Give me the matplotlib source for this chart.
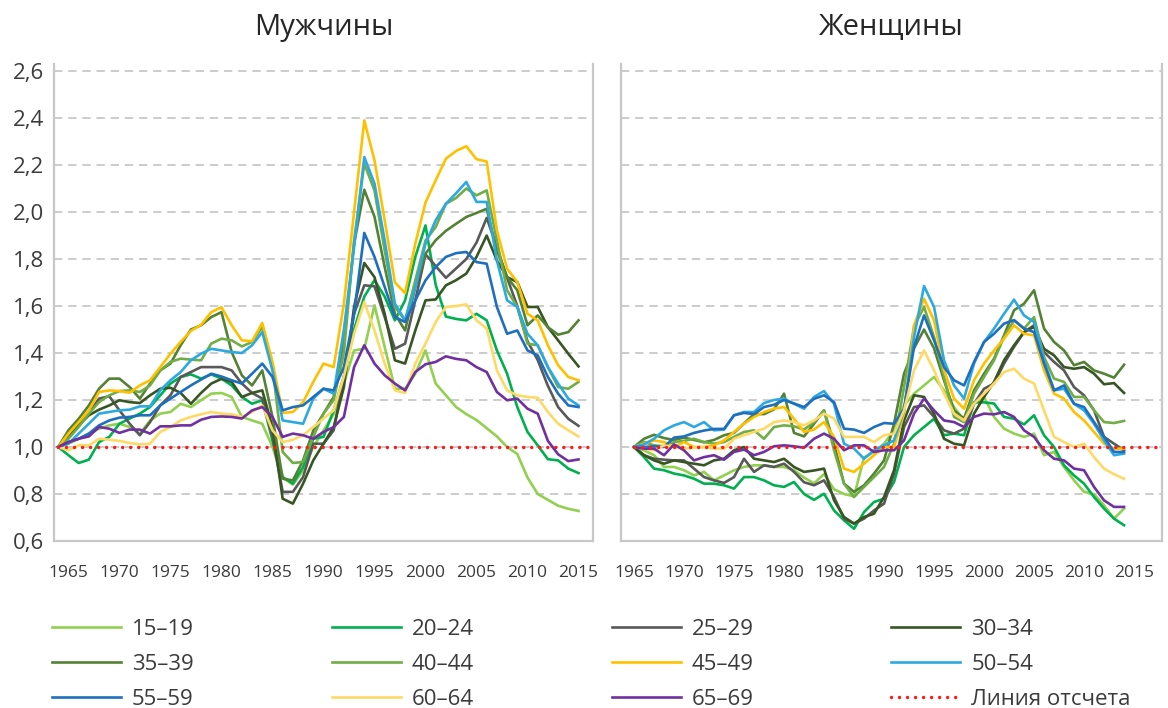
import numpy as np
import matplotlib
matplotlib.use('Agg')
import matplotlib.pyplot as plt

plt.rcParams['font.family'] = ['Open Sans', 'DejaVu Sans']

# years on each panel (men 1964-2015, women 1965-2014)
years_m = list(range(1964, 2016))
years_w = list(range(1965, 2015))
base_line = 1.0

groups = ['15–19', '20–24', '25–29', '30–34', '35–39', '40–44',
          '45–49', '50–54', '55–59', '60–64', '65–69']
colors = ['#92D050', '#00B050', '#595959', '#375623', '#548235', '#70AD47',
          '#FFC000', '#2DA9E1', '#1F6FBF', '#FFD966', '#7030A0']
ref_label = 'Линия отсчета'

# ---- men, relative to the first year ----
m_15_19 = [1.0, 1.014, 1.035, 1.057, 1.078, 1.092, 1.099, 1.085, 1.057, 1.113,
           1.142, 1.149, 1.184, 1.17, 1.199, 1.227, 1.23, 1.213, 1.128, 1.113,
           1.099, 1.0, 0.87, 0.84, 0.9, 1.0, 1.07, 1.14, 1.27, 1.411,
           1.418, 1.603, 1.426, 1.248, 1.248, 1.312, 1.411, 1.27, 1.22, 1.17,
           1.14, 1.115, 1.08, 1.045, 1.0, 0.97, 0.87, 0.8, 0.775, 0.75,
           0.737, 0.728]
m_20_24 = [1.0, 0.965, 0.932, 0.946, 1.021, 1.043, 1.099, 1.121, 1.142, 1.17,
           1.22, 1.27, 1.298, 1.309, 1.291, 1.309, 1.291, 1.262, 1.213, 1.184,
           1.199, 1.028, 0.872, 0.844, 0.915, 1.035, 1.043, 1.156, 1.3, 1.5,
           1.64, 1.71, 1.64, 1.539, 1.624, 1.809, 1.943, 1.69, 1.555, 1.545,
           1.539, 1.567, 1.539, 1.411, 1.312, 1.17, 1.064, 1.007, 0.948, 0.943,
           0.908, 0.889]
m_25_29 = [1.0, 1.05, 1.092, 1.142, 1.206, 1.216, 1.156, 1.099, 1.05, 1.106,
           1.177, 1.22, 1.298, 1.319, 1.34, 1.34, 1.34, 1.326, 1.27, 1.23,
           1.206, 1.043, 0.809, 0.809, 0.872, 1.014, 1.014, 1.071, 1.298, 1.567,
           1.688, 1.684, 1.553, 1.418, 1.44, 1.624, 1.82, 1.77, 1.72, 1.76,
           1.80, 1.87, 1.975, 1.851, 1.72, 1.6, 1.45, 1.37, 1.26, 1.17,
           1.12, 1.09]
m_30_34 = [1.0, 1.057, 1.092, 1.135, 1.159, 1.177, 1.199, 1.191, 1.187, 1.22,
           1.248, 1.252, 1.23, 1.184, 1.23, 1.27, 1.29, 1.277, 1.213, 1.23,
           1.241, 1.085, 0.78, 0.759, 0.844, 0.943, 1.014, 1.085, 1.255, 1.596,
           1.783, 1.723, 1.567, 1.369, 1.355, 1.496, 1.624, 1.628, 1.688, 1.71,
           1.738, 1.809, 1.9, 1.794, 1.723, 1.702, 1.596, 1.596, 1.51, 1.454,
           1.397, 1.343]
m_35_39 = [1.0, 1.071, 1.12, 1.177, 1.248, 1.291, 1.291, 1.255, 1.206, 1.27,
           1.326, 1.355, 1.433, 1.5, 1.518, 1.553, 1.574, 1.404, 1.305, 1.262,
           1.326, 1.128, 0.865, 0.858, 0.943, 1.07, 1.142, 1.213, 1.45, 1.865,
           2.095, 1.98, 1.766, 1.567, 1.496, 1.68, 1.823, 1.88, 1.92, 1.95,
           1.979, 1.996, 2.014, 1.837, 1.723, 1.667, 1.518, 1.56, 1.51, 1.478,
           1.489, 1.539]
m_40_44 = [1.0, 1.035, 1.085, 1.142, 1.191, 1.22, 1.238, 1.241, 1.234, 1.262,
           1.326, 1.362, 1.376, 1.372, 1.369, 1.44, 1.461, 1.454, 1.428, 1.447,
           1.511, 1.34, 0.979, 0.932, 0.936, 1.043, 1.142, 1.2, 1.4, 1.879,
           2.206, 2.092, 1.837, 1.596, 1.539, 1.709, 1.879, 1.936, 2.035, 2.06,
           2.1, 2.071, 2.092, 1.879, 1.667, 1.596, 1.44, 1.433, 1.34, 1.255,
           1.248, 1.277]
m_45_49 = [1.0, 1.057, 1.106, 1.156, 1.234, 1.241, 1.238, 1.231, 1.262, 1.284,
           1.34, 1.397, 1.447, 1.494, 1.52, 1.574, 1.595, 1.518, 1.454, 1.45,
           1.528, 1.362, 1.145, 1.149, 1.19, 1.277, 1.355, 1.34, 1.61, 2.0,
           2.39, 2.22, 1.965, 1.70, 1.655, 1.865, 2.04, 2.135, 2.227, 2.26,
           2.28, 2.225, 2.215, 1.922, 1.759, 1.702, 1.567, 1.539, 1.433, 1.348,
           1.298, 1.284]
m_50_54 = [1.0, 1.014, 1.057, 1.099, 1.142, 1.149, 1.156, 1.159, 1.173, 1.173,
           1.241, 1.284, 1.319, 1.369, 1.397, 1.418, 1.411, 1.404, 1.4, 1.433,
           1.489, 1.326, 1.113, 1.106, 1.099, 1.206, 1.248, 1.227, 1.5, 1.851,
           2.234, 2.121, 1.879, 1.61, 1.539, 1.681, 1.865, 1.965, 2.035, 2.08,
           2.128, 2.043, 2.043, 1.794, 1.624, 1.596, 1.482, 1.433, 1.34, 1.27,
           1.206, 1.177]
m_55_59 = [1.0, 1.021, 1.035, 1.057, 1.092, 1.113, 1.125, 1.128, 1.135, 1.135,
           1.177, 1.206, 1.234, 1.262, 1.287, 1.312, 1.3, 1.284, 1.27, 1.312,
           1.355, 1.298, 1.156, 1.17, 1.177, 1.213, 1.248, 1.241, 1.34, 1.567,
           1.911, 1.809, 1.681, 1.553, 1.532, 1.624, 1.709, 1.766, 1.809, 1.825,
           1.83, 1.787, 1.78, 1.596, 1.482, 1.496, 1.411, 1.39, 1.298, 1.227,
           1.177, 1.17]
m_60_64 = [1.0, 0.986, 1.007, 1.007, 1.035, 1.031, 1.026, 1.017, 1.011, 1.014,
           1.064, 1.085, 1.113, 1.128, 1.139, 1.149, 1.142, 1.139, 1.128, 1.149,
           1.177, 1.071, 1.021, 1.031, 1.05, 1.085, 1.121, 1.156, 1.3, 1.482,
           1.617, 1.496, 1.355, 1.241, 1.23, 1.355, 1.44, 1.532, 1.596, 1.6,
           1.607, 1.539, 1.504, 1.326, 1.241, 1.22, 1.213, 1.21, 1.149, 1.099,
           1.071, 1.045]
m_65_69 = [1.0, 1.021, 1.035, 1.045, 1.085, 1.078, 1.06, 1.074, 1.074, 1.057,
           1.088, 1.088, 1.092, 1.092, 1.116, 1.128, 1.13, 1.128, 1.121, 1.156,
           1.17, 1.128, 1.043, 1.057, 1.05, 1.035, 1.064, 1.085, 1.128, 1.34,
           1.433, 1.355, 1.305, 1.27, 1.241, 1.319, 1.352, 1.362, 1.386, 1.375,
           1.369, 1.34, 1.319, 1.234, 1.199, 1.206, 1.163, 1.142, 1.026, 0.969,
           0.94, 0.947]

# ---- women ----
w_15_19 = [1.0, 0.986, 0.965, 0.915, 0.915, 0.901, 0.879, 0.894, 0.858, 0.879,
           0.901, 0.915, 0.922, 0.922, 0.915, 0.915, 0.901, 0.87, 0.845, 0.885,
           0.82, 0.8, 0.79, 0.955, 0.979, 1.014, 1.071, 1.177, 1.227, 1.262,
           1.298, 1.241, 1.17, 1.113, 1.184, 1.213, 1.128, 1.078, 1.057, 1.043,
           1.057, 0.965, 0.979, 0.915, 0.858, 0.809, 0.799, 0.752, 0.695, 0.738]
w_20_24 = [1.0, 0.957, 0.908, 0.901, 0.887, 0.879, 0.865, 0.844, 0.844, 0.837,
           0.823, 0.872, 0.872, 0.858, 0.837, 0.83, 0.851, 0.8, 0.775, 0.801,
           0.73, 0.688, 0.652, 0.723, 0.766, 0.78, 0.851, 1.0, 1.05, 1.085,
           1.12, 1.05, 1.057, 1.05, 1.19, 1.19, 1.185, 1.128, 1.12, 1.096,
           1.135, 1.05, 1.0, 0.922, 0.879, 0.844, 0.787, 0.738, 0.695, 0.667]
w_25_29 = [1.0, 0.965, 0.95, 0.946, 0.943, 0.943, 0.908, 0.872, 0.858, 0.847,
           0.872, 0.95, 0.894, 0.922, 0.915, 0.929, 0.894, 0.85, 0.837, 0.858,
           0.787, 0.695, 0.674, 0.695, 0.73, 0.759, 0.887, 1.085, 1.17, 1.177,
           1.128, 1.071, 1.057, 1.078, 1.184, 1.248, 1.27, 1.355, 1.426, 1.489,
           1.518, 1.404, 1.362, 1.326, 1.255, 1.22, 1.156, 1.043, 1.014, 0.986]
w_30_34 = [1.0, 0.965, 0.943, 0.929, 0.943, 0.936, 0.929, 0.922, 0.943, 0.95,
           0.986, 1.0, 0.95, 0.943, 0.936, 0.95, 0.915, 0.894, 0.9, 0.908,
           0.773, 0.702, 0.674, 0.702, 0.716, 0.787, 0.901, 1.113, 1.22, 1.213,
           1.142, 1.035, 1.014, 1.007, 1.142, 1.213, 1.277, 1.369, 1.433, 1.489,
           1.511, 1.418, 1.39, 1.34, 1.333, 1.34, 1.312, 1.267, 1.272, 1.23]
w_35_39 = [1.0, 1.035, 1.052, 1.038, 1.03, 1.04, 1.03, 1.02, 1.03, 1.05,
           1.06, 1.1, 1.14, 1.14, 1.16, 1.227, 1.06, 1.045, 1.099, 1.156,
           1.014, 0.844, 0.809, 0.837, 0.887, 0.943, 1.099, 1.312, 1.42, 1.5,
           1.42, 1.284, 1.156, 1.121, 1.241, 1.312, 1.376, 1.475, 1.582, 1.61,
           1.667, 1.504, 1.447, 1.411, 1.348, 1.362, 1.326, 1.312, 1.295, 1.35]
w_40_44 = [1.0, 1.021, 1.007, 1.003, 1.021, 1.026, 1.035, 1.021, 1.014, 1.021,
           1.043, 1.064, 1.071, 1.035, 1.085, 1.092, 1.088, 1.074, 1.106, 1.156,
           0.986, 0.844, 0.787, 0.83, 0.872, 0.915, 1.014, 1.255, 1.511, 1.596,
           1.468, 1.298, 1.128, 1.106, 1.227, 1.298, 1.369, 1.468, 1.539, 1.504,
           1.553, 1.383, 1.291, 1.277, 1.213, 1.213, 1.156, 1.106, 1.102, 1.111]
w_45_49 = [1.0, 1.014, 1.028, 1.021, 1.0, 1.021, 1.0, 1.0, 1.007, 1.028,
           1.064, 1.099, 1.128, 1.149, 1.163, 1.17, 1.12, 1.064, 1.074, 1.106,
           1.043, 0.908, 0.894, 0.929, 0.965, 1.0, 1.0, 1.142, 1.518, 1.631,
           1.539, 1.326, 1.206, 1.163, 1.284, 1.355, 1.411, 1.461, 1.518, 1.482,
           1.475, 1.326, 1.227, 1.206, 1.149, 1.113, 1.064, 1.014, 0.993, 0.993]
w_50_54 = [1.0, 1.011, 1.035, 1.071, 1.092, 1.106, 1.085, 1.106, 1.071, 1.074,
           1.135, 1.149, 1.149, 1.187, 1.2, 1.206, 1.184, 1.163, 1.213, 1.238,
           1.184, 1.014, 0.993, 0.95, 0.986, 1.007, 1.028, 1.156, 1.468, 1.685,
           1.596, 1.369, 1.262, 1.206, 1.355, 1.447, 1.504, 1.567, 1.627, 1.56,
           1.532, 1.369, 1.241, 1.248, 1.184, 1.156, 1.099, 1.028, 0.965, 0.972]
w_55_59 = [1.0, 1.0, 1.003, 1.0, 1.04, 1.045, 1.06, 1.07, 1.077, 1.077,
           1.135, 1.145, 1.14, 1.17, 1.18, 1.2, 1.185, 1.17, 1.205, 1.22,
           1.191, 1.078, 1.074, 1.06, 1.085, 1.102, 1.099, 1.163, 1.426, 1.56,
           1.454, 1.34, 1.284, 1.262, 1.362, 1.447, 1.482, 1.525, 1.54, 1.504,
           1.489, 1.355, 1.241, 1.262, 1.184, 1.17, 1.106, 1.043, 0.979, 0.979]
w_60_64 = [1.0, 0.993, 0.986, 1.007, 1.0, 0.993, 0.997, 1.0, 0.993, 0.993,
           1.035, 1.05, 1.064, 1.078, 1.106, 1.113, 1.106, 1.092, 1.113, 1.142,
           1.121, 1.043, 1.043, 1.043, 1.021, 1.05, 1.057, 1.156, 1.326, 1.411,
           1.326, 1.227, 1.142, 1.113, 1.184, 1.227, 1.27, 1.319, 1.333, 1.291,
           1.27, 1.156, 1.043, 1.021, 1.0, 1.014, 0.957, 0.908, 0.884, 0.865]
w_65_69 = [1.0, 0.993, 0.993, 0.965, 1.011, 0.986, 0.943, 0.957, 0.965, 0.946,
           0.979, 0.989, 0.965, 0.979, 1.003, 1.007, 1.003, 0.997, 1.035, 1.057,
           1.035, 0.986, 1.007, 1.007, 0.979, 0.986, 0.986, 1.028, 1.142, 1.206,
           1.156, 1.113, 1.106, 1.085, 1.128, 1.142, 1.139, 1.149, 1.128, 1.071,
           1.043, 0.986, 0.95, 0.943, 0.908, 0.901, 0.83, 0.773, 0.745, 0.745]

men = [m_15_19, m_20_24, m_25_29, m_30_34, m_35_39, m_40_44,
       m_45_49, m_50_54, m_55_59, m_60_64, m_65_69]
women = [w_15_19, w_20_24, w_25_29, w_30_34, w_35_39, w_40_44,
         w_45_49, w_50_54, w_55_59, w_60_64, w_65_69]

yticks = np.arange(0.6, 2.61, 0.2)
xticks = list(range(1965, 2016, 5))
text_col = '#3b3b3b'
frame_col = '#C8C8C8'

fig = plt.figure(figsize=(11.68, 7.08), dpi=100)
ax_m = fig.add_axes([0.0462, 0.2359, 0.4615, 0.6737])
ax_w = fig.add_axes([0.5317, 0.2359, 0.4632, 0.6737])

panels = [(ax_m, years_m, men, (1963.58, 2016.42), 'Мужчины'),
          (ax_w, years_w, women, (1963.7, 2017.8), 'Женщины')]

for ax, yrs, series, xlim, title in panels:
    for vals, col, lab in zip(series, colors, groups):
        ax.plot(yrs, vals, color=col, lw=1.9, label=lab)
    # dotted red baseline, running to the right edge of the panel
    ax.plot([yrs[0], xlim[1] - 0.4], [base_line, base_line], color='#FF1A1A',
            lw=2.5, linestyle=(0, (0.01, 2.3)), dash_capstyle='round',
            label=ref_label)

    ax.set_xlim(*xlim)
    ax.set_ylim(0.6, 2.63)
    ax.set_xticks(xticks)
    ax.set_xticklabels([str(x) for x in xticks], fontsize=12.5, color=text_col)
    ax.set_yticks(yticks)
    ax.yaxis.grid(True, linestyle=(0, (5, 3.5)), color='#C4C4C4', lw=1.2)
    ax.set_axisbelow(True)
    ax.tick_params(axis='x', length=0, pad=17)
    ax.tick_params(axis='y', length=0, pad=7)
    ax.spines['top'].set_visible(False)
    for side in ['left', 'right', 'bottom']:
        ax.spines[side].set_color(frame_col)
        ax.spines[side].set_linewidth(1.6)
    pos = ax.get_position()
    fig.text((pos.x0 + pos.x1) / 2, 1 - 28 / 708.0, title, fontsize=21,
             ha='center', va='center', color='#262626')

ax_m.set_yticklabels([('%.1f' % v).replace('.', ',') for v in yticks],
                     fontsize=16, color=text_col)
ax_w.set_yticklabels([])

# legend is filled row by row in the reference, matplotlib fills by column
handles, labels = ax_m.get_legend_handles_labels()
order = [0, 4, 8, 1, 5, 9, 2, 6, 10, 3, 7, 11]
leg = fig.legend([handles[i] for i in order], [labels[i] for i in order],
                 ncol=4, loc='upper left', bbox_to_anchor=(52 / 1168.0, 1 - 619 / 708.0),
                 frameon=False, fontsize=16, handlelength=3.1, handletextpad=0.5,
                 columnspacing=6.2, labelspacing=0.63, borderpad=0, borderaxespad=0)
for t in leg.get_texts():
    t.set_color(text_col)

fig.savefig('out.png', dpi=100)
